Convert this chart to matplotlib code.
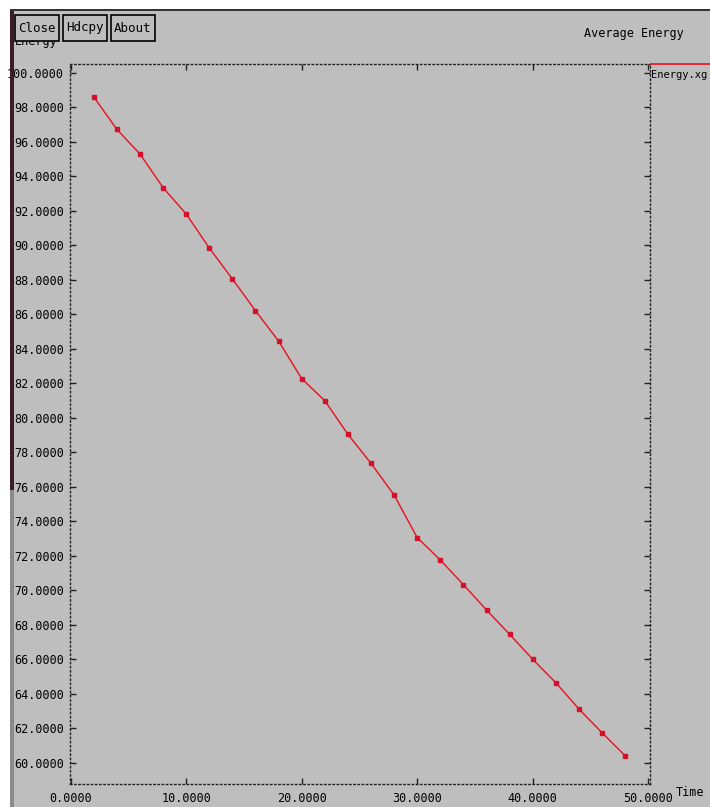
import matplotlib
matplotlib.use("Agg")
import matplotlib.pyplot as plt
from matplotlib.patches import Rectangle
from matplotlib.lines import Line2D

# ---- data ----
time = [2, 4, 6, 8, 10, 12, 14, 16, 18, 20, 22, 24,
        26, 28, 30, 32, 34, 36, 38, 40, 42, 44, 46, 48]
energy = [98.61, 96.73, 95.30, 93.35, 91.82, 89.85, 88.05, 86.21,
          84.45, 82.27, 80.99, 79.04, 77.36, 75.52, 73.05, 71.75,
          70.32, 68.85, 67.44, 65.99, 64.63, 63.11, 61.73, 60.40]
x_ticks = [0, 10, 20, 30, 40, 50]
x_tick_labels = ["0.0000", "10.0000", "20.0000", "30.0000", "40.0000", "50.0000"]
y_ticks = list(range(60, 101, 2))
y_tick_labels = ["%d.0000" % v for v in y_ticks]
title = "Average Energy"
y_label = "Energy"
x_label = "Time"
legend_label = "Energy.xg"
buttons = ["Close", "Hdcpy", "About"]

W, H = 710, 807
BG = "#bebebe"
MONO = "DejaVu Sans Mono"


def fx(x):
    return x / W


def fy(y):
    return 1 - y / H


fig = plt.figure(figsize=(W / 100, H / 100), dpi=100)
fig.patch.set_facecolor(BG)

# window frame: white strip on top and left, dark border
fig.add_artist(Rectangle((0, fy(11)), 1, 11 / H, transform=fig.transFigure,
                         facecolor="white", edgecolor="none", zorder=0))
fig.add_artist(Rectangle((0, 0), fx(10), 1, transform=fig.transFigure,
                         facecolor="white", edgecolor="none", zorder=0))
fig.add_artist(Rectangle((fx(10), fy(11)), 1, 2 / H, transform=fig.transFigure,
                         facecolor="#333333", edgecolor="none", zorder=0))

# plot area
ax = fig.add_axes([fx(69.5), fy(784), fx(650) - fx(69.5), fy(64) - fy(784)])
ax.set_facecolor(BG)
ax.plot(time, energy, color="#e8101e", linewidth=1.0, marker="s",
        markersize=3.2, markerfacecolor="#d4102a", markeredgecolor="#d4102a",
        clip_on=False)

ax.set_xlim(-0.1, 50.15)
ax.set_ylim(58.76, 100.52)
ax.set_xticks(x_ticks)
ax.set_xticklabels(x_tick_labels)
ax.set_yticks(y_ticks)
ax.set_yticklabels(y_tick_labels)
for sp in ax.spines.values():
    sp.set_linestyle((0, (1, 2)))
    sp.set_linewidth(1.0)
    sp.set_color("#202020")
ax.tick_params(axis="both", direction="in", length=4, width=1,
               top=True, right=True, colors="#202020", labelcolor="black",
               labelsize=8.5)
ax.tick_params(axis="x", pad=6)
ax.tick_params(axis="y", pad=4)
for lab in ax.get_xticklabels() + ax.get_yticklabels():
    lab.set_fontfamily(MONO)

# labels and title
fig.text(fx(584), fy(33), title, ha="left", va="center",
         fontfamily=MONO, fontsize=8.5, color="black")
fig.text(fx(15), fy(42), y_label, ha="left", va="center",
         fontfamily=MONO, fontsize=8.5, color="black", zorder=1)
fig.text(fx(676), fy(792), x_label, ha="left", va="center",
         fontfamily=MONO, fontsize=8.5, color="black")

# legend entry on the right
fig.add_artist(Line2D([fx(651), 1.0], [fy(64), fy(64)], transform=fig.transFigure,
                      color="#e8101e", linewidth=1.2))
fig.text(fx(651), fy(75), legend_label, ha="left", va="center",
         fontfamily=MONO, fontsize=7.5, color="black")

# buttons
bx = [15, 63, 111]
for x0, name in zip(bx, buttons):
    fig.add_artist(Rectangle((fx(x0), fy(41)), 44 / W, 26 / H,
                             transform=fig.transFigure, facecolor=BG,
                             edgecolor="black", linewidth=1.2, zorder=5))
    fig.text(fx(x0 + 22), fy(28), name, ha="center", va="center",
             fontfamily=MONO, fontsize=9, color="black", zorder=6)

# left dark strip of the window
fig.add_artist(Rectangle((fx(10), fy(490)), 4 / W, (490 - 11) / H,
                         transform=fig.transFigure, facecolor="#3a1e26",
                         edgecolor="none", zorder=7))
fig.add_artist(Rectangle((fx(10), 0), 4 / W, (H - 490) / H,
                         transform=fig.transFigure, facecolor="#8a8a8a",
                         edgecolor="none", zorder=7))

fig.savefig("out.png", dpi=100, facecolor=fig.get_facecolor())
